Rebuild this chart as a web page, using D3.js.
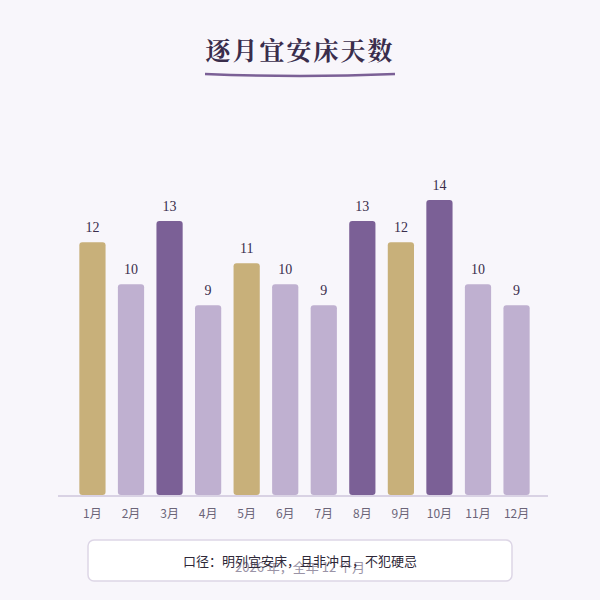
<!DOCTYPE html><html><head><meta charset="utf-8"><script src="https://cdn.jsdelivr.net/npm/d3@7"></script>
<style>body{margin:0;background:#f8f6fb}</style></head><body><svg id="c" width="600" height="600"></svg>
<script>
const months=["1月","2月","3月","4月","5月","6月","7月","8月","9月","10月","11月","12月"];
const days=[12,10,13,9,11,10,9,13,12,14,10,9];
const tones=["gold","light","dark","light","gold","light","light","dark","gold","dark","light","light"];
const palette={gold:"#c8b07a",light:"#bfb0d0",dark:"#7b6096"};
const svg=d3.select("#c");
svg.append("rect").attr("width",600).attr("height",600).attr("fill","#f8f6fb");
svg.append("text").attr("x",300).attr("y",60).attr("text-anchor","middle").attr("font-family","Noto Serif CJK SC, Noto Sans CJK SC, serif").attr("font-size",25).attr("font-weight","bold").attr("fill","#3a2d4c").attr("letter-spacing",2).text("逐月宜安床天数");
svg.append("path").attr("d","M205,74 Q300,78 395,74").attr("stroke","#7b6096").attr("stroke-width",2.5).attr("fill","none");
const x=d3.scaleBand().domain(months).range([67,542]).padding(0.32);
const y=d3.scaleLinear().domain([0,14]).range([495,200]);
svg.append("line").attr("x1",58).attr("x2",548).attr("y1",496).attr("y2",496).attr("stroke","#d9d2e4").attr("stroke-width",2);
svg.selectAll("rect.b").data(days).join("rect").attr("class","b")
 .attr("x",(d,i)=>x(months[i])).attr("y",d=>y(d)).attr("width",x.bandwidth()).attr("height",d=>y(0)-y(d)).attr("rx",3).attr("fill",(d,i)=>palette[tones[i]]);
svg.selectAll("text.v").data(days).join("text").attr("class","v")
 .attr("x",(d,i)=>x(months[i])+x.bandwidth()/2).attr("y",d=>y(d)-10).attr("text-anchor","middle").attr("font-family","Liberation Serif, serif").attr("font-size",14).attr("fill","#3a2d4c").text(d=>d);
const ax=svg.append("g").attr("transform","translate(0,496)").call(d3.axisBottom(x).tickSize(0).tickPadding(13));
ax.select(".domain").remove();
ax.selectAll("text").attr("font-family","Noto Sans CJK SC, sans-serif").attr("font-size",12).attr("fill","#6b6478");
svg.append("rect").attr("x",88).attr("y",540).attr("width",424).attr("height",41).attr("rx",6).attr("fill","#fff").attr("stroke","#ddd6e6").attr("stroke-width",1.5);
svg.append("text").attr("x",300).attr("y",572).attr("text-anchor","middle").attr("font-family","Noto Sans CJK SC, sans-serif").attr("font-size",13).attr("fill","#9a93a6").text("2026 年，全年 12 个月");
svg.append("text").attr("x",300).attr("y",566).attr("text-anchor","middle").attr("font-family","Noto Sans CJK SC, sans-serif").attr("font-size",13).attr("fill","#2e2838").text("口径：明列宜安床，且非冲日，不犯硬忌");
</script></body></html>
